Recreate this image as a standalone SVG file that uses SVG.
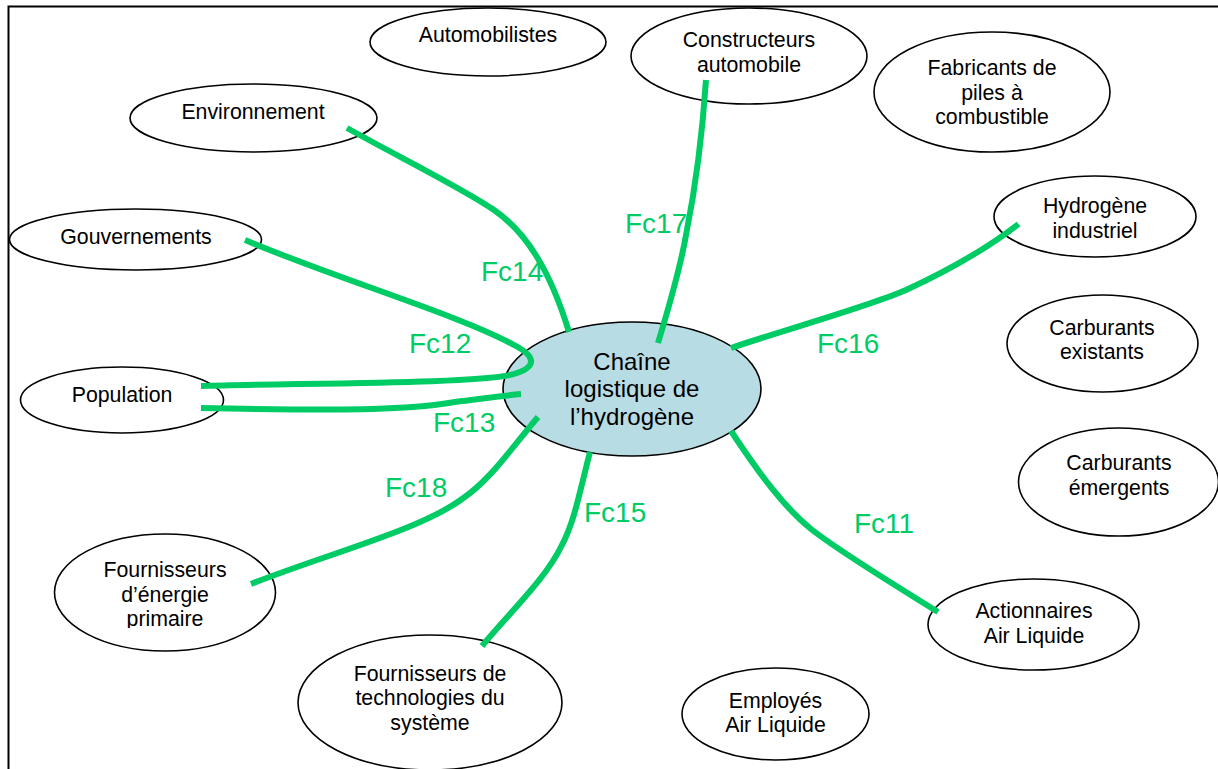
<svg xmlns="http://www.w3.org/2000/svg" width="1218" height="769" viewBox="0 0 1218 769">
<style>
.n{fill:#fff;stroke:#000;stroke-width:1.600}
.c{fill:#b8dce3;stroke:#000;stroke-width:1.600}
text{font-family:"Liberation Sans",Arial,sans-serif}
.t{font-size:21.300px;fill:#000;text-anchor:middle}
.m{font-size:24px;fill:#000;text-anchor:middle}
.l{font-size:28px;fill:#00cc66}
.e{fill:none;stroke:#00cc66;stroke-width:6;stroke-linecap:butt;stroke-linejoin:round}
</style>
<defs><clipPath id="clip-primaire"><rect x="100" y="560" width="130" height="68"/></clipPath></defs>
<rect width="1218" height="769" fill="#fff"/>
<path d="M8.500 769V6.500H1218" fill="none" stroke="#000" stroke-width="2"/>
<g id="automobilistes"><ellipse class="n" cx="488" cy="42" rx="118" ry="34"/><text class="t" x="488" y="42">Automobilistes</text></g>
<g id="environnement"><ellipse class="n" cx="253.500" cy="118" rx="123.500" ry="34"/><text class="t" x="253" y="119">Environnement</text></g>
<g id="gouvernements"><ellipse class="n" cx="135.500" cy="239.500" rx="126" ry="30.500"/><text class="t" x="136" y="244">Gouvernements</text></g>
<g id="population"><ellipse class="n" cx="122" cy="400" rx="101.500" ry="33"/><text class="t" x="122" y="402">Population</text></g>
<g id="constructeurs"><ellipse class="n" cx="749" cy="56" rx="118" ry="48"/><text class="t" x="749" y="47">Constructeurs</text><text class="t" x="749" y="72">automobile</text></g>
<g id="fabricants"><ellipse class="n" cx="992" cy="92" rx="118" ry="60"/><text class="t" x="992" y="75">Fabricants de</text><text class="t" x="992" y="100">piles à</text><text class="t" x="992" y="124">combustible</text></g>
<g id="hydrogene-industriel"><ellipse class="n" cx="1095" cy="216.500" rx="101" ry="40.500"/><text class="t" x="1095" y="213">Hydrogène</text><text class="t" x="1095" y="238">industriel</text></g>
<g id="carburants-existants"><ellipse class="n" cx="1102.500" cy="343.500" rx="95.500" ry="48.500"/><text class="t" x="1102" y="335">Carburants</text><text class="t" x="1102" y="359">existants</text></g>
<g id="carburants-emergents"><ellipse class="n" cx="1118.500" cy="482" rx="100" ry="54"/><text class="t" x="1119" y="470">Carburants</text><text class="t" x="1119" y="495">émergents</text></g>
<g id="actionnaires"><ellipse class="n" cx="1033.500" cy="624.500" rx="105.500" ry="45.500"/><text class="t" x="1034" y="618">Actionnaires</text><text class="t" x="1034" y="643">Air Liquide</text></g>
<g id="employes"><ellipse class="n" cx="775.500" cy="714" rx="93.500" ry="46"/><text class="t" x="775.500" y="708">Employés</text><text class="t" x="775.500" y="732">Air Liquide</text></g>
<g id="fournisseurs-energie"><ellipse class="n" cx="165" cy="592.500" rx="110.500" ry="58.500"/><text class="t" x="165" y="577">Fournisseurs</text><text class="t" x="165" y="602">d’énergie</text><text class="t" x="165" y="626" clip-path="url(#clip-primaire)">primaire</text></g>
<g id="fournisseurs-technologies"><ellipse class="n" cx="430" cy="702.500" rx="132" ry="67.500"/><text class="t" x="430" y="681">Fournisseurs de</text><text class="t" x="430" y="705">technologies du</text><text class="t" x="430" y="730">système</text></g>
<g id="chaine"><ellipse class="c" cx="632" cy="389" rx="129" ry="67"/><text class="m" x="632" y="370">Chaîne</text><text class="m" x="632" y="397">logistique de</text><text class="m" x="632" y="425">l’hydrogène</text></g>
<g id="connectors">
<path class="e" d="M347 128C395 155 462 188 494 210C526 232 550 270 569 332"/>
<path class="e" d="M245 240C340 280 460 315 516 346C536 357 537 367 514 374C480 384 300 383 201 386"/>
<path class="e" d="M201 408C300 410 400 412 455 402C480 399 500 396 521 394"/>
<path class="e" d="M538 417C510 450 490 480 462 499C420 530 330 553 251 584"/>
<path class="e" d="M590 452C580 490 575 520 562 545C545 580 510 612 482 646"/>
<path class="e" d="M706 80C702 140 695 190 686 235C680 270 668 310 658 343"/>
<path class="e" d="M1018.500 224C985 250 945 272 906 290C870 306 790 328 731 348"/>
<path class="e" d="M731 431C760 475 785 508 811 529C840 552 895 585 938 612"/>
</g>
<g id="labels">
<text class="l" x="481" y="281">Fc14</text>
<text class="l" x="409" y="353">Fc12</text>
<text class="l" x="433" y="432">Fc13</text>
<text class="l" x="385" y="497">Fc18</text>
<text class="l" x="584" y="522">Fc15</text>
<text class="l" x="625" y="233">Fc17</text>
<text class="l" x="817" y="353">Fc16</text>
<text class="l" x="854" y="533">Fc11</text>
</g>
</svg>
